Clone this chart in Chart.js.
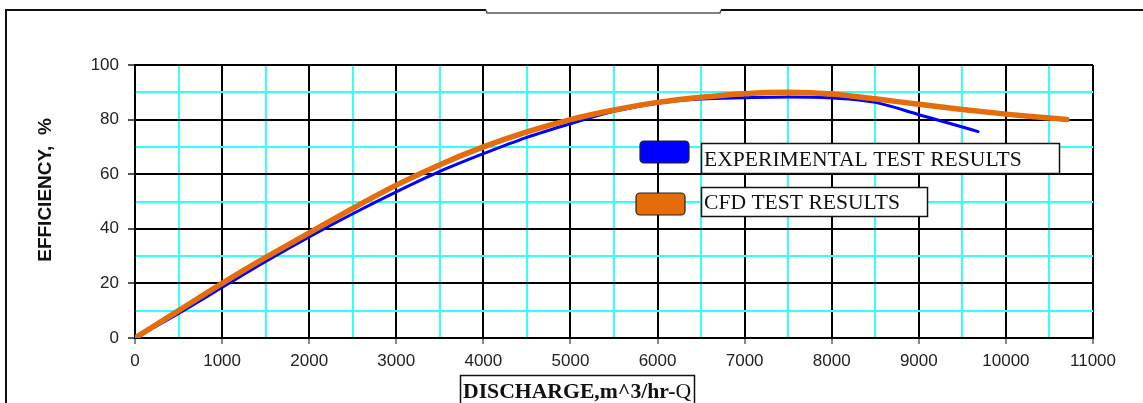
<!DOCTYPE html>
<html>
<head>
<meta charset="utf-8">
<script src="https://cdn.jsdelivr.net/npm/chart.js@4"></script>
<style>
  body { margin: 0; background: #fff; }
  canvas { display: block; }
</style>
</head>
<body>
<canvas id="grafico" width="1143" height="403"></canvas>
<script>
// valores
const vazao = [0, 500, 1000, 1500, 2000, 2500, 3000, 3500, 4000, 4500, 5000, 5500, 6000, 6500, 7000, 7500, 8000, 8500, 9000, 9500, 9680];
const experimental = [0, 9, 18.5, 28, 37, 45.5, 53.5, 61, 67.5, 73.5, 78.5, 83, 86, 87.5, 88, 88.3, 87.9, 86.3, 81.8, 77.3, 75.6];

const vazaoCfd = [0, 500, 1000, 1500, 2000, 2500, 3000, 3500, 4000, 4500, 5000, 5500, 6000, 6500, 7000, 7500, 8000, 8500, 9000, 9500, 10000, 10500, 10700];
const cfd = [0, 10, 20, 29.5, 38.5, 47.5, 56, 63.5, 70, 75.5, 80, 83.5, 86.3, 88.2, 89.5, 90, 89.4, 87.6, 85.6, 83.7, 82, 80.6, 80];

const ticksX = [0, 1000, 2000, 3000, 4000, 5000, 6000, 7000, 8000, 9000, 10000, 11000];
const ticksY = [0, 20, 40, 60, 80, 100];

const legendas = ['EXPERIMENTAL TEST RESULTS', 'CFD TEST RESULTS'];
const tituloX = 'DISCHARGE,m^3/hr-Q';
const tituloY = 'EFFICIENCY,  %';

function pontos(xs, ys) {
  return xs.map((x, i) => ({ x: x, y: ys[i] }));
}

// moldura, titulos e legenda desenhados a mao
const extras = {
  id: 'extras',
  beforeDraw(chart) {
    const c = chart.ctx;
    c.save();
    c.fillStyle = '#fff';
    c.fillRect(0, 0, chart.width, chart.height);
    // moldura externa
    c.strokeStyle = '#111';
    c.lineWidth = 2;
    c.beginPath();
    c.moveTo(6, 403);
    c.lineTo(6, 10);
    c.lineTo(486, 10);
    c.stroke();
    c.beginPath();
    c.moveTo(721, 10);
    c.lineTo(1143, 10);
    c.stroke();
    c.strokeStyle = '#555';
    c.lineWidth = 1.5;
    c.beginPath();
    c.moveTo(486, 10);
    c.lineTo(487, 13);
    c.lineTo(720, 13);
    c.lineTo(721, 10);
    c.stroke();
    c.restore();
  },
  afterDraw(chart) {
    const c = chart.ctx;
    c.save();
    // titulo eixo Y
    c.translate(46, 190);
    c.rotate(-Math.PI / 2);
    c.font = 'bold 19px "Liberation Sans", Arial, sans-serif';
    c.fillStyle = '#111';
    c.textAlign = 'center';
    c.textBaseline = 'middle';
    c.fillText(tituloY, 0, 0);
    c.restore();

    c.save();
    // titulo eixo X em caixa
    c.fillStyle = '#fff';
    c.fillRect(460, 375, 235, 30);
    c.strokeStyle = '#111';
    c.lineWidth = 1.5;
    c.strokeRect(460.5, 375.5, 234, 30);
    c.fillStyle = '#111';
    c.font = 'bold 21.7px "Liberation Serif", "Times New Roman", serif';
    c.textBaseline = 'alphabetic';
    c.fillText(tituloX.slice(0, -1), 463, 398);
    const w = c.measureText(tituloX.slice(0, -1)).width;
    c.font = '21.7px "Liberation Serif", "Times New Roman", serif';
    c.fillText(tituloX.slice(-1), 463 + w, 398);

    // legenda
    const itens = [
      { cor: '#0000ff', rx: 640, ry: 141, bx: 701, by: 143, bw: 358, bh: 30 },
      { cor: '#e46c0a', rx: 636, ry: 193, bx: 701, by: 187, bw: 226, bh: 29 }
    ];
    itens.forEach((it, i) => {
      c.fillStyle = it.cor;
      c.strokeStyle = '#222';
      c.lineWidth = 1.2;
      c.beginPath();
      c.roundRect(it.rx, it.ry, 49, 22, 4);
      c.fill();
      c.stroke();
      c.fillStyle = '#fff';
      c.fillRect(it.bx, it.by, it.bw, it.bh);
      c.strokeStyle = '#111';
      c.lineWidth = 1.5;
      c.strokeRect(it.bx + 0.5, it.by + 0.5, it.bw, it.bh);
      c.fillStyle = '#111';
      c.font = '21.6px "Liberation Serif", "Times New Roman", serif';
      c.fillText(legendas[i], it.bx + 3, it.by + it.bh - 7);
    });
    c.restore();
  }
};

const ehMaiorX = v => v % 1000 === 0;
const ehMaiorY = v => v % 20 === 0;

new Chart(document.getElementById('grafico').getContext('2d'), {
  type: 'line',
  data: {
    datasets: [
      {
        label: legendas[1],
        data: pontos(vazaoCfd, cfd),
        borderColor: '#e46c0a',
        borderWidth: 5.5,
        pointRadius: 0,
        cubicInterpolationMode: 'monotone',
        borderCapStyle: 'round',
        order: 1
      },
      {
        label: legendas[0],
        data: pontos(vazao, experimental),
        borderColor: '#0000ff',
        borderWidth: 3,
        pointRadius: 0,
        cubicInterpolationMode: 'monotone',
        borderCapStyle: 'round',
        order: 2
      }
    ]
  },
  options: {
    responsive: false,
    animation: false,
    layout: { padding: { left: 0, top: 65, right: 50, bottom: 0 } },
    plugins: {
      legend: { display: false },
      tooltip: { enabled: false }
    },
    scales: {
      x: {
        type: 'linear',
        min: 0,
        max: 11000,
        afterFit: s => { s.height = 65; },
        afterBuildTicks: s => {
          const t = [];
          for (let v = 0; v <= 11000; v += 500) t.push({ value: v });
          s.ticks = t;
        },
        ticks: {
          autoSkip: false,
          maxRotation: 0,
          padding: 7,
          color: '#222',
          font: { family: '"Liberation Sans", Arial, sans-serif', size: 17 },
          callback: v => (ehMaiorX(v) && ticksX.includes(v)) ? String(v) : ''
        },
        grid: {
          color: ctx => ehMaiorX(ctx.tick.value) ? '#000' : '#33ffff',
          lineWidth: 2,
          tickLength: 6,
          tickColor: ctx => ehMaiorX(ctx.tick.value) ? '#888' : 'rgba(0,0,0,0)'
        },
        border: { color: '#000', width: 2 }
      },
      y: {
        min: 0,
        max: 100,
        afterFit: s => { s.width = 135; },
        afterBuildTicks: s => {
          const t = [];
          for (let v = 0; v <= 100; v += 10) t.push({ value: v });
          s.ticks = t;
        },
        ticks: {
          autoSkip: false,
          padding: 9,
          color: '#222',
          font: { family: '"Liberation Sans", Arial, sans-serif', size: 17 },
          callback: v => (ehMaiorY(v) && ticksY.includes(v)) ? String(v) : ''
        },
        grid: {
          color: ctx => ehMaiorY(ctx.tick.value) ? '#000' : '#33ffff',
          lineWidth: 2,
          tickLength: 7,
          tickColor: ctx => ehMaiorY(ctx.tick.value) ? '#555' : 'rgba(0,0,0,0)'
        },
        border: { color: '#000', width: 2 }
      }
    }
  },
  plugins: [extras]
});
</script>
</body>
</html>
